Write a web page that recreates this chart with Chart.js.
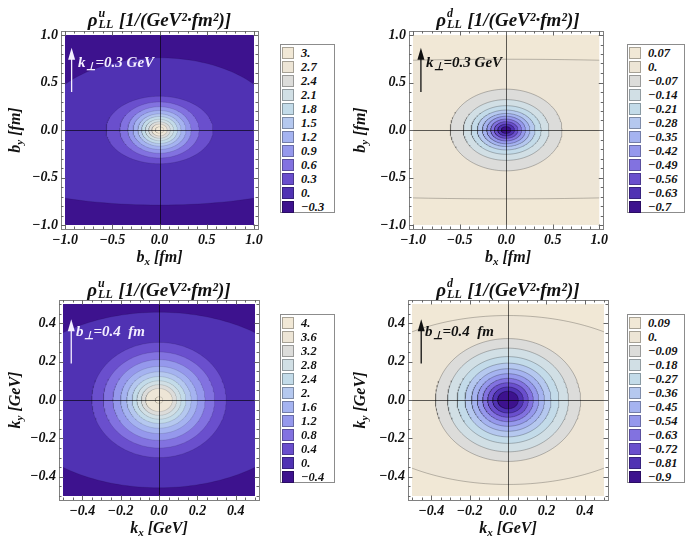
<!DOCTYPE html>
<html><head><meta charset="utf-8">
<script src="https://cdn.jsdelivr.net/npm/chart.js@4"></script>
<style>
body{margin:0;background:#fff;}
#wrap{position:relative;width:689px;height:541px;overflow:hidden;font-family:"Liberation Serif","Times New Roman",serif;font-weight:bold;font-style:italic;color:#111;}
canvas{position:absolute;}
.t{position:absolute;white-space:nowrap;}
.t sub{font-size:11px;vertical-align:-3px;line-height:0;}
.stack{display:inline-block;vertical-align:-2px;line-height:11px;font-size:12px;margin:0 1px;text-align:left;}
.stack span{display:block;}
.legend{position:absolute;border:1px solid #8c8c8c;background:#fff;box-sizing:border-box;padding:1px 0 0 1px;}
.row{height:14px;display:flex;align-items:center;font-size:12.5px;}
.sw{width:10px;height:10px;border:1px solid rgba(0,0,0,0.3);margin-right:7px;flex:none;}
</style></head>
<body><div id="wrap"></div>
<script>
// ---------------- data ----------------
const palette = ['#f1e8d6','#ede5d6','#dcdcda','#d1dfe5','#c3dbe9','#b5c8ef','#a5b3f0','#9598ec','#8272e0','#6a4fcd','#5032b3','#3d128e'];

const bTicks = [-1, -0.5, 0, 0.5, 1];
const kTicks = [-0.4, -0.2, 0, 0.2, 0.4];

const uB_levels = [3, 2.7, 2.4, 2.1, 1.8, 1.5, 1.2, 0.9, 0.6, 0.3, 0, -0.3];
const dB_levels = [0.07, 0, -0.07, -0.14, -0.21, -0.28, -0.35, -0.42, -0.49, -0.56, -0.63, -0.7];
const uK_levels = [4, 3.6, 3.2, 2.8, 2.4, 2, 1.6, 1.2, 0.8, 0.4, 0, -0.4];
const dK_levels = [0.09, 0, -0.09, -0.18, -0.27, -0.36, -0.45, -0.54, -0.63, -0.72, -0.81, -0.9];

// outermost contour: [rx upper, ry upper, rx lower, ry lower]
const uB_outer = [1.29, 0.76, 2.4, 0.79];
const dB_outer = [6, 0.745, 6, 0.725];
const uK_outer = [0.78, 0.457, 0.78, 0.457];
const dK_outer = [0.846, 0.44, 0.846, 0.44];

// inner contours (outer to inner): semi-axes
const uB_rx = [0.565, 0.42, 0.335, 0.28, 0.228, 0.19, 0.15, 0.115, 0.082, 0.045];
const uB_ry = [0.355, 0.295, 0.245, 0.205, 0.17, 0.142, 0.113, 0.087, 0.062, 0.034];
const dB_rx = [0.6, 0.46, 0.376, 0.31, 0.255, 0.208, 0.166, 0.127, 0.09, 0.052];
const dB_ry = [0.43, 0.32, 0.256, 0.21, 0.174, 0.145, 0.115, 0.088, 0.062, 0.036];
const uK_rx = [0.35, 0.29, 0.24, 0.2, 0.168, 0.14, 0.115, 0.092, 0.07, 0.02];
const uK_ry = [0.30, 0.25, 0.21, 0.175, 0.147, 0.122, 0.1, 0.08, 0.06, 0.017];
const dK_rx = [0.378, 0.315, 0.265, 0.224, 0.19, 0.16, 0.132, 0.106, 0.08, 0.054];
const dK_ry = [0.32, 0.27, 0.226, 0.192, 0.163, 0.137, 0.113, 0.09, 0.068, 0.046];

// ---------------- layout ----------------
const panels = [
  {q:'u', v:'b', unit:'fm', cl:0,   ct:0,   cw:270, ch:270, al:65,  ar:254, at:35,  ab:225, range:1,   ticks:bTicks, minor:0.1,
   levels:uB_levels, outer:uB_outer, rx:uB_rx, ry:uB_ry, legL:280, legW:55, ann:{x:-0.93, y0:0.40, y1:0.865, color:'#f3eeff', v:'k', txt:'=0.3 GeV'}},
  {q:'d', v:'b', unit:'fm', cl:345, ct:0,   cw:270, ch:270, al:413, ar:603, at:35,  ab:225, range:1,   ticks:bTicks, minor:0.1,
   levels:dB_levels, outer:dB_outer, rx:dB_rx, ry:dB_ry, legL:627, legW:58, ann:{x:-0.915, y0:0.40, y1:0.865, color:'#111', v:'k', txt:'=0.3 GeV'}},
  {q:'u', v:'k', unit:'GeV', cl:0,  ct:270, cw:270, ch:271, al:63,  ar:255, at:304, ab:496, range:0.5, ticks:kTicks, minor:0.05,
   levels:uK_levels, outer:uK_outer, rx:uK_rx, ry:uK_ry, legL:280, legW:55, ann:{x:-0.457, y0:0.19, y1:0.42, color:'#f3eeff', v:'b', txt:'=0.4\u00a0 fm'}},
  {q:'d', v:'k', unit:'GeV', cl:345, ct:270, cw:270, ch:271, al:412, ar:604, at:304, ab:496, range:0.5, ticks:kTicks, minor:0.05,
   levels:dK_levels, outer:dK_outer, rx:dK_rx, ry:dK_ry, legL:627, legW:58, ann:{x:-0.452, y0:0.19, y1:0.42, color:'#111', v:'b', txt:'=0.4\u00a0 fm'}}
];

const fmtTick = v => v.toFixed(1).replace('-', '\u2212');
const fmtLevel = v => (Number.isInteger(v) ? v + '.' : String(v)).replace('-', '\u2212');

function ellipse(rxU, ryU, rxD, ryD, n) {
  const pts = [];
  for (let i = 0; i <= n; i++) {
    const a = i / n * 2 * Math.PI;
    const up = a <= Math.PI;
    pts.push({x: (up ? rxU : rxD) * Math.cos(a), y: (up ? ryU : ryD) * Math.sin(a)});
  }
  return pts;
}

const framePlugin = {
  id: 'frame',
  beforeDatasetsDraw(chart, args, o) {
    const {ctx, chartArea: a} = chart;
    ctx.save(); ctx.fillStyle = o.bg; ctx.fillRect(a.left, a.top, a.right - a.left, a.bottom - a.top); ctx.restore();
  },
  afterDatasetsDraw(chart, args, o) {
    const {ctx, chartArea: a, scales: {x, y}} = chart;
    const L = a.left - 4, R = a.right + 4, T = a.top - 4, B = a.bottom + 4;
    ctx.save();
    // axes through origin
    ctx.strokeStyle = 'rgba(0,0,0,0.62)'; ctx.lineWidth = 1;
    const x0 = Math.round(x.getPixelForValue(0)) + 0.5, y0 = Math.round(y.getPixelForValue(0)) + 0.5;
    ctx.beginPath(); ctx.moveTo(x0, T); ctx.lineTo(x0, B); ctx.moveTo(L, y0); ctx.lineTo(R, y0); ctx.stroke();
    // arrow
    const an = o.ann;
    const ax = x.getPixelForValue(an.x), ay0 = y.getPixelForValue(an.y0), ay1 = y.getPixelForValue(an.y1);
    ctx.strokeStyle = an.color; ctx.fillStyle = an.color; ctx.lineWidth = 1.3;
    ctx.beginPath(); ctx.moveTo(ax, ay0); ctx.lineTo(ax, ay1 + 8); ctx.stroke();
    ctx.beginPath(); ctx.moveTo(ax, ay1); ctx.lineTo(ax - 3.5, ay1 + 12); ctx.lineTo(ax + 3.5, ay1 + 12); ctx.closePath(); ctx.fill();
    // frame
    ctx.strokeStyle = '#808080'; ctx.lineWidth = 1;
    ctx.strokeRect(Math.round(L) + 0.5, Math.round(T) + 0.5, Math.round(R - L), Math.round(B - T));
    // frame ticks
    ctx.strokeStyle = '#666';
    const tick = (v, len) => {
      const px = Math.round(x.getPixelForValue(v)) + 0.5, py = Math.round(y.getPixelForValue(v)) + 0.5;
      ctx.moveTo(px, B); ctx.lineTo(px, B - len); ctx.moveTo(px, T); ctx.lineTo(px, T + len);
      ctx.moveTo(L, py); ctx.lineTo(L + len, py); ctx.moveTo(R, py); ctx.lineTo(R - len, py);
    };
    ctx.beginPath();
    const r = o.range, st = o.minor;
    for (let k = Math.round(-r / st); k <= Math.round(r / st); k++) {
      const v = k * st;
      const major = o.ticks.some(t => Math.abs(t - v) < 1e-9);
      tick(v, major ? 4.5 : 2.5);
    }
    ctx.stroke();
    ctx.restore();
  }
};

const wrap = document.getElementById('wrap');
const tickFont = {family: 'Liberation Serif', size: 14, style: 'italic', weight: 'bold'};

panels.forEach(p => {
  const cv = document.createElement('canvas');
  cv.width = p.cw; cv.height = p.ch;
  cv.style.left = p.cl + 'px'; cv.style.top = p.ct + 'px';
  cv.style.width = p.cw + 'px'; cv.style.height = p.ch + 'px';
  wrap.appendChild(cv);

  const isU = p.q === 'u';
  const fillOf = k => isU ? palette[10 - k] : palette[1 + k];
  const bg = isU ? palette[11] : palette[0];
  const shapes = [p.outer].concat(p.rx.map((r, i) => [r, p.ry[i], r, p.ry[i]]));
  const datasets = shapes.map((s, k) => ({
    data: ellipse(s[0], s[1], s[2], s[3], 180),
    fill: 'shape',
    backgroundColor: fillOf(k),
    borderColor: isU ? 'rgba(0,0,0,0.14)' : 'rgba(0,0,0,0.3)',
    borderWidth: 0.8,
    pointRadius: 0,
    tension: 0,
    order: shapes.length - k
  }));

  new Chart(cv, {
    type: 'line',
    data: {datasets},
    options: {
      responsive: false, animation: false, devicePixelRatio: 1, events: [],
      layout: {padding: {left: 0, top: p.at - p.ct, right: p.cl + p.cw - p.ar, bottom: 0}},
      plugins: {legend: {display: false}, tooltip: {enabled: false},
        frame: {bg, ann: p.ann, ticks: p.ticks, range: p.range, minor: p.minor}},
      scales: {
        x: {type: 'linear', min: -p.range, max: p.range,
          afterBuildTicks: s => { s.ticks = p.ticks.map(v => ({value: v})); },
          afterFit: s => { s.height = p.ct + p.ch - p.ab; },
          grid: {display: false, drawTicks: false}, border: {display: false},
          ticks: {font: tickFont, color: '#111', padding: 7, maxRotation: 0, autoSkip: false, callback: v => fmtTick(v)}},
        y: {type: 'linear', min: -p.range, max: p.range,
          afterBuildTicks: s => { s.ticks = p.ticks.map(v => ({value: v})); },
          afterFit: s => { s.width = p.al - p.cl; },
          grid: {display: false, drawTicks: false}, border: {display: false},
          ticks: {font: tickFont, color: '#111', padding: 7, autoSkip: false, callback: v => fmtTick(v)}}
      }
    },
    plugins: [framePlugin]
  });

  const cx = (p.al + p.ar) / 2, cy = (p.at + p.ab) / 2;
  const add = (html, style) => { const d = document.createElement('div'); d.className = 't'; d.innerHTML = html; d.setAttribute('style', style); wrap.appendChild(d); return d; };
  // title
  add('\u03c1<span class="stack"><span>' + p.q + '</span><span>LL</span></span> [1/(GeV\u00b2\u00b7fm\u00b2)]',
      `left:${cx - 150}px;top:${p.ct + 8}px;width:300px;text-align:center;font-size:19px;line-height:24px;`);
  // x title
  add(p.v + '<sub>x</sub> [' + p.unit + ']',
      `left:${cx - 80}px;top:${p.ab + 21}px;width:160px;text-align:center;font-size:16px;line-height:22px;`);
  // y title
  add(p.v + '<sub>y</sub> [' + p.unit + ']',
      `left:${p.cl + 15 - 80}px;top:${cy - 11}px;width:160px;text-align:center;font-size:16px;line-height:22px;transform:rotate(-90deg);`);
  // annotation
  add(p.ann.v + '<sub>\u22a5</sub>' + p.ann.txt,
      `left:${p.cl + (p.al - p.cl) + 13}px;top:${p.at + 17}px;font-size:15px;line-height:20px;color:${p.ann.color};`);
  // legend
  const lg = document.createElement('div');
  lg.className = 'legend';
  lg.style.left = p.legL + 'px'; lg.style.top = (p.ct + 44) + 'px'; lg.style.width = p.legW + 'px';
  lg.style.height = '169px';
  p.levels.forEach((lv, i) => {
    const row = document.createElement('div'); row.className = 'row';
    const sw = document.createElement('div'); sw.className = 'sw'; sw.style.background = palette[i];
    const tx = document.createElement('span'); tx.textContent = fmtLevel(lv);
    row.appendChild(sw); row.appendChild(tx); lg.appendChild(row);
  });
  wrap.appendChild(lg);
});
</script>
</body></html>
